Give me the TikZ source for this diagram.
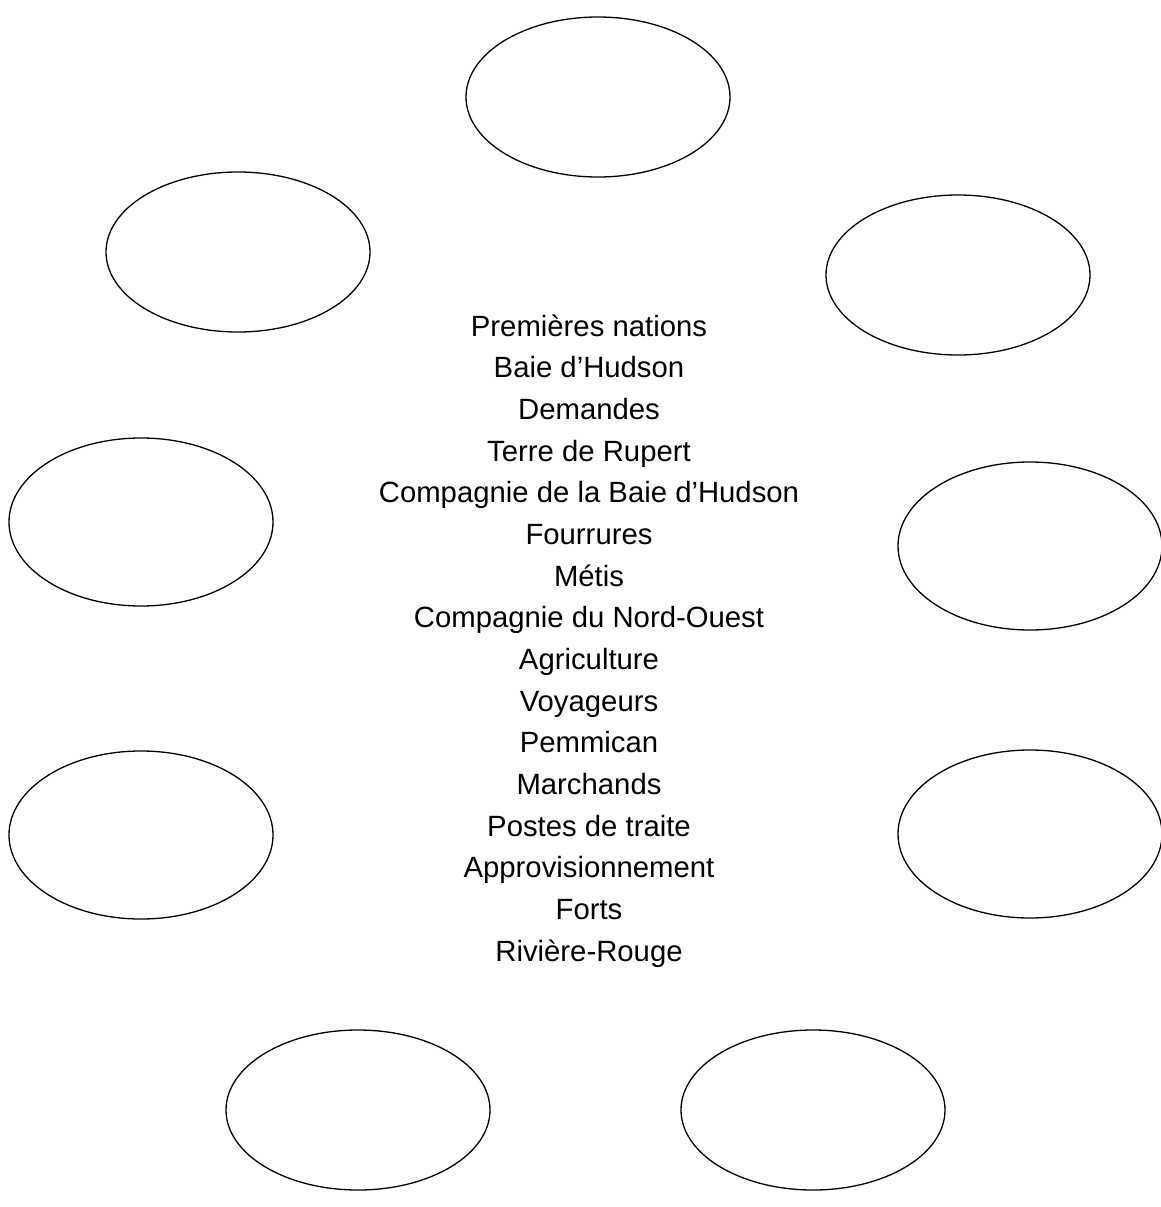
\documentclass[tikz,border=0pt]{standalone}
\usepackage{fontspec}
\setmainfont{Liberation Sans}
\usetikzlibrary{shapes.geometric}
\begin{document}
\begin{tikzpicture}[x=1pt,y=-1pt,
  bubble/.style={draw=black,line width=1.3pt,ellipse,minimum width=264pt,minimum height=160pt,inner sep=0pt},
  tallbubble/.style={bubble,minimum height=168pt},
  word/.style={font=\fontsize{29.3}{35}\selectfont,anchor=base,inner sep=0pt}]
\useasboundingbox (0,0) rectangle (1161,1207);
\node[bubble] (e1) at (598,97) {};
\node[bubble] (e2) at (238,252) {};
\node[bubble] (e3) at (958,275) {};
\node[tallbubble] (e4) at (141,522) {};
\node[tallbubble] (e5) at (1030,546) {};
\node[tallbubble] (e6) at (141,835) {};
\node[tallbubble] (e7) at (1030,834) {};
\node[bubble] (e8) at (358,1110) {};
\node[bubble] (e9) at (813,1110) {};
\foreach \t [count=\i from 0] in {Premières nations,Baie d’Hudson,Demandes,Terre de Rupert,Compagnie de la Baie d’Hudson,Fourrures,Métis,Compagnie du Nord-Ouest,Agriculture,Voyageurs,Pemmican,Marchands,Postes de traite,Approvisionnement,Forts,Rivière-Rouge}
  \node[word] (t\i) at (589,336+41.67*\i) {\t};
\end{tikzpicture}
\end{document}
